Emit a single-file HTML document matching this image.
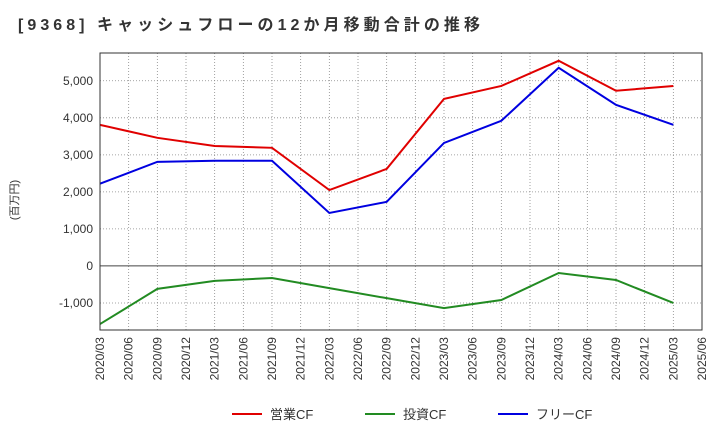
<!DOCTYPE html>
<html><head><meta charset="utf-8"><style>
body{margin:0;background:#fff;font-family:"Liberation Sans","Noto Sans CJK JP",sans-serif;}
</style></head><body>
<svg id="c" width="720" height="440" xmlns="http://www.w3.org/2000/svg">
<text x="18" y="30" font-size="16" font-weight="bold" fill="#333" textLength="462" lengthAdjust="spacing">[9368]  キャッシュフローの12か月移動合計の推移</text>
<text transform="translate(18,200) rotate(-90)" font-size="11" fill="#333" text-anchor="middle">(百万円)</text>
<g id="grid"></g><g id="series"></g><g id="axes"></g>
<g id="legend"></g>
</svg>
<script>
const xLabels=["2020/03","2020/06","2020/09","2020/12","2021/03","2021/06","2021/09","2021/12","2022/03","2022/06","2022/09","2022/12","2023/03","2023/06","2023/09","2023/12","2024/03","2024/06","2024/09","2024/12","2025/03","2025/06"];
const yTicks=[-1000,0,1000,2000,3000,4000,5000];
const pointIdx=[0,2,4,6,8,10,12,14,16,18,20];
const opCF=[3810,3460,3240,3190,2050,2620,4510,4860,5540,4730,4860];
const invCF=[-1570,-620,-405,-325,-600,-870,-1140,-920,-190,-380,-1000];
const freeCF=[2220,2810,2840,2840,1430,1730,3320,3920,5350,4350,3810];
const names=["営業CF","投資CF","フリーCF"];
const colors=["#e00000","#228b22","#0000e0"];
const L=100,R=702,T=53,B=330,yMin=-1730,yMax=5750;
const X=i=>L+(R-L)*i/(xLabels.length-1);
const Y=v=>B-(v-yMin)/(yMax-yMin)*(B-T);
const NS="http://www.w3.org/2000/svg";
function mk(t,a,p){const e=document.createElementNS(NS,t);for(const k in a)e.setAttribute(k,a[k]);p.appendChild(e);return e;}
const g=document.getElementById('grid'),ax=document.getElementById('axes'),s=document.getElementById('series'),lg=document.getElementById('legend');
xLabels.forEach((l,i)=>{const x=X(i);
 const ln=mk('line',{x1:x,x2:x,y1:T,y2:B,stroke:'#888','stroke-dasharray':'1,2','stroke-width':0.8},g);
 
 const t=mk('text',{transform:`translate(${x+4},${B+7}) rotate(-90)`,'font-size':12,fill:'#333','text-anchor':'end'},ax);
 t.textContent=l;});
yTicks.forEach(v=>{const y=Y(v);
 const ln=mk('line',{x1:L,x2:R,y1:y,y2:y,stroke:v===0?'#444':'#888','stroke-dasharray':v===0?'':'1,2','stroke-width':v===0?1:0.8},g);
 
 const t=mk('text',{x:L-7,y:y+4,'font-size':12,fill:'#333','text-anchor':'end'},ax);
 t.textContent=v.toLocaleString('en-US');});
const fr=mk('rect',{x:L,y:T,width:R-L,height:B-T,fill:'none',stroke:'#333','stroke-width':1},ax);

[opCF,invCF,freeCF].forEach((d,k)=>{
 const p=mk('polyline',{points:d.map((v,i)=>X(pointIdx[i])+','+Y(v)).join(' '),fill:'none',stroke:colors[k],'stroke-width':2},s);
 
 const lx=232+k*133;
 const ll=mk('line',{x1:lx,x2:lx+30,y1:414,y2:414,stroke:colors[k],'stroke-width':2},lg);
 
 const lt=mk('text',{x:lx+38,y:419,'font-size':13,fill:'#333'},lg);
 lt.textContent=names[k];});
</script>
</body></html>
